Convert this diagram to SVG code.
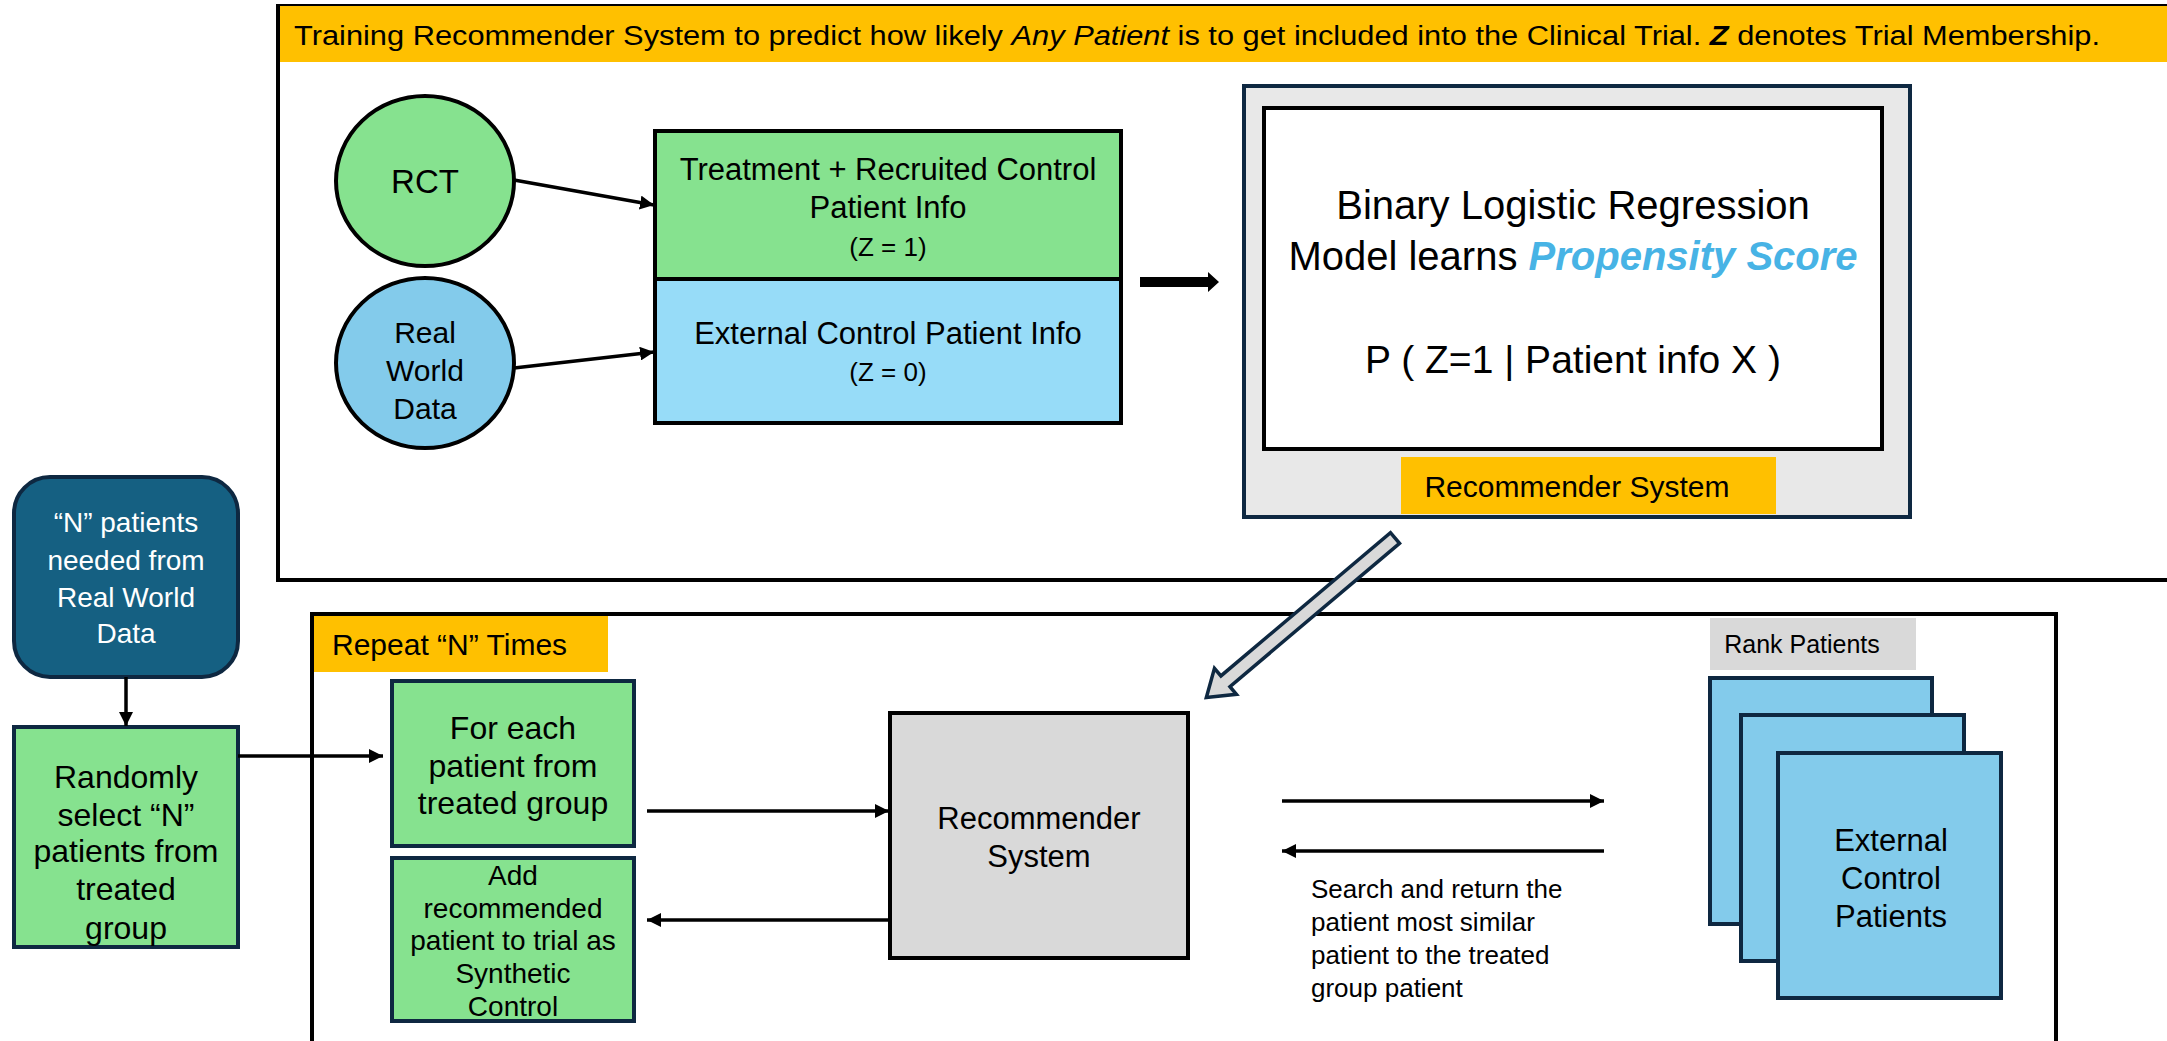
<svg xmlns="http://www.w3.org/2000/svg" width="2167" height="1041" viewBox="0 0 2167 1041">
<style>
  text { font-family: "Liberation Sans", Arial, sans-serif; fill: #000; }
  .c { text-anchor: middle; }
  .w { fill: #fff; }
  .frame { fill: none; stroke: #000; stroke-width: 4; }
  .ban { fill: #FFC000; }
  .navy { stroke: #0E2841; stroke-width: 4; }
  .blk { stroke: #000; stroke-width: 4; }
  .conn { stroke: #000; stroke-width: 3.5; fill: none; }
</style>
<defs>
  <marker id="ah" viewBox="0 0 10 10" refX="10" refY="5" markerWidth="14" markerHeight="14" markerUnits="userSpaceOnUse" orient="auto">
    <path d="M0,0 L10,5 L0,10 z" fill="#000"/>
  </marker>
</defs>
<rect width="2167" height="1041" fill="#fff"/>

<!-- frames -->
<g id="top-frame">
  <rect class="frame" x="278" y="6" width="2000" height="574"/>
  <rect class="ban" x="280" y="6" width="1887" height="56"/>
  <text x="294" y="45" font-size="27" textLength="1806" lengthAdjust="spacingAndGlyphs">Training Recommender System to predict how likely <tspan font-style="italic">Any Patient</tspan> is to get included into the Clinical Trial. <tspan font-weight="bold" font-style="italic">Z</tspan> denotes Trial Membership.</text>
</g>
<g id="bottom-frame">
  <rect class="frame" x="312" y="614" width="1744" height="500"/>
  <rect class="ban" x="314" y="616" width="294" height="56"/>
  <text x="332" y="655" font-size="30">Repeat “N” Times</text>
</g>

<!-- top section nodes -->
<g id="rct">
  <ellipse cx="425" cy="181" rx="89" ry="85" fill="#86E28F" class="blk"/>
  <text class="c" x="425" y="193" font-size="33">RCT</text>
</g>
<g id="rwd">
  <ellipse cx="425" cy="363" rx="89" ry="85" fill="#83CBEB" class="blk"/>
  <text class="c" x="425" y="343" font-size="30">Real</text>
  <text class="c" x="425" y="381" font-size="30">World</text>
  <text class="c" x="425" y="419" font-size="30">Data</text>
</g>
<g id="trial-info">
  <rect x="655" y="131" width="466" height="148" fill="#86E28F" class="blk"/>
  <text class="c" x="888" y="180" font-size="31">Treatment + Recruited Control</text>
  <text class="c" x="888" y="218" font-size="31">Patient Info</text>
  <text class="c" x="888" y="256" font-size="26">(Z = 1)</text>
</g>
<g id="external-info">
  <rect x="655" y="279" width="466" height="144" fill="#97DCF8" class="blk"/>
  <text class="c" x="888" y="344" font-size="31">External Control Patient Info</text>
  <text class="c" x="888" y="381" font-size="26">(Z = 0)</text>
</g>
<g id="recsys-model">
  <rect x="1244" y="86" width="666" height="431" fill="#E8E8E8" class="navy"/>
  <rect x="1264" y="108" width="618" height="341" fill="#fff" class="blk"/>
  <text class="c" x="1573" y="219" font-size="40">Binary Logistic Regression</text>
  <text class="c" x="1573" y="270" font-size="40">Model learns <tspan fill="#47B3E5" font-weight="bold" font-style="italic">Propensity Score</tspan></text>
  <text class="c" x="1573" y="373" font-size="39">P ( Z=1 | Patient info X )</text>
  <rect class="ban" x="1401" y="457" width="375" height="57"/>
  <text class="c" x="1577" y="497" font-size="30">Recommender System</text>
</g>

<!-- left nodes -->
<g id="n-needed">
  <rect x="14" y="477" width="224" height="200" rx="36" fill="#156082" class="navy"/>
  <text class="c w" x="126" y="532" font-size="28">“N” patients</text>
  <text class="c w" x="126" y="570" font-size="28">needed from</text>
  <text class="c w" x="126" y="607" font-size="28">Real World</text>
  <text class="c w" x="126" y="643" font-size="28">Data</text>
</g>
<g id="random-select">
  <rect x="14" y="727" width="224" height="220" fill="#86E28F" class="navy"/>
  <text class="c" x="126" y="788" font-size="32">Randomly</text>
  <text class="c" x="126" y="826" font-size="32">select “N”</text>
  <text class="c" x="126" y="862" font-size="32">patients from</text>
  <text class="c" x="126" y="900" font-size="32">treated</text>
  <text class="c" x="126" y="939" font-size="32">group</text>
</g>

<!-- bottom section nodes -->
<g id="for-each">
  <rect x="392" y="681" width="242" height="165" fill="#86E28F" class="navy"/>
  <text class="c" x="513" y="739" font-size="32">For each</text>
  <text class="c" x="513" y="777" font-size="32">patient from</text>
  <text class="c" x="513" y="814" font-size="32">treated group</text>
</g>
<g id="add-recommended">
  <rect x="392" y="858" width="242" height="163" fill="#86E28F" class="navy"/>
  <text class="c" x="513" y="885" font-size="28">Add</text>
  <text class="c" x="513" y="918" font-size="28">recommended</text>
  <text class="c" x="513" y="950" font-size="28">patient to trial as</text>
  <text class="c" x="513" y="983" font-size="28">Synthetic</text>
  <text class="c" x="513" y="1016" font-size="28">Control</text>
</g>
<g id="recsys">
  <rect x="890" y="713" width="298" height="245" fill="#D9D9D9" class="blk"/>
  <text class="c" x="1039" y="829" font-size="31">Recommender</text>
  <text class="c" x="1039" y="867" font-size="31">System</text>
</g>
<g id="search-label">
  <text x="1311" y="898" font-size="26">Search and return the</text>
  <text x="1311" y="931" font-size="26">patient most similar</text>
  <text x="1311" y="964" font-size="26">patient to the treated</text>
  <text x="1311" y="997" font-size="26">group patient</text>
</g>
<g id="external-patients">
  <rect x="1710" y="618" width="206" height="52" fill="#D9D9D9"/>
  <text class="c" x="1802" y="653" font-size="25">Rank Patients</text>
  <rect x="1710" y="678" width="222" height="246" fill="#83CBEB" class="navy"/>
  <rect x="1741" y="715" width="223" height="246" fill="#83CBEB" class="navy"/>
  <rect x="1778" y="753" width="223" height="245" fill="#83CBEB" class="navy"/>
  <text class="c" x="1891" y="851" font-size="31">External</text>
  <text class="c" x="1891" y="889" font-size="31">Control</text>
  <text class="c" x="1891" y="927" font-size="31">Patients</text>
</g>

<!-- connectors -->
<g id="connectors">
  <line class="conn" x1="514" y1="180" x2="654" y2="205" marker-end="url(#ah)"/>
  <line class="conn" x1="514" y1="368" x2="654" y2="352" marker-end="url(#ah)"/>
  <polygon points="1140,277 1208,277 1208,272 1219,282 1208,292 1208,287 1140,287" fill="#000"/>
  <polygon points="0,-7 222,-7 222,-17 247,0 222,17 222,7 0,7" fill="#D9D9D9" stroke="#0E2841" stroke-width="3.5" stroke-linejoin="miter" transform="translate(1395,538) rotate(139.8)"/>
  <line class="conn" x1="126" y1="677" x2="126" y2="726" marker-end="url(#ah)"/>
  <line class="conn" x1="238" y1="756" x2="383" y2="756" marker-end="url(#ah)"/>
  <line class="conn" x1="647" y1="811" x2="889" y2="811" marker-end="url(#ah)"/>
  <line class="conn" x1="889" y1="920" x2="647" y2="920" marker-end="url(#ah)"/>
  <line class="conn" x1="1282" y1="801" x2="1604" y2="801" marker-end="url(#ah)"/>
  <line class="conn" x1="1604" y1="851" x2="1282" y2="851" marker-end="url(#ah)"/>
</g>
</svg>
